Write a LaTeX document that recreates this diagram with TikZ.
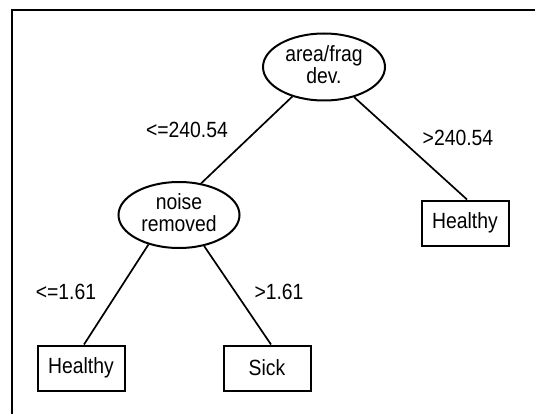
\documentclass[tikz,border=0pt]{standalone}
\usepackage{fontspec}
\setmainfont[FakeStretch=0.88]{Liberation Sans}
\usetikzlibrary{shapes.geometric}
\tikzset{
  decision/.style={ellipse, draw, line width=2pt, inner sep=0pt},
  leaf/.style={rectangle, draw, line width=2pt, inner sep=0pt, minimum width=87pt, minimum height=45pt},
  branch/.style={line width=1.7pt},
  cond/.style={inner sep=0pt},
}
\newcommand{\twolines}[2]{\smash{\raisebox{-6pt}{\begin{tabular}{@{}c@{}}#1\\[-2pt]#2\end{tabular}}}}
\begin{document}
\begin{tikzpicture}[x=1pt, y=-1pt, font=\fontsize{22pt}{24pt}\selectfont]
\useasboundingbox (0,0) rectangle (535,414);
\clip (0,0) rectangle (535,414);
\fill[white] (0,0) rectangle (535,414);
\draw[line width=2.4pt] (12,420) -- (12,10) -- (540,10);

\node[decision, minimum width=122pt, minimum height=67pt] (root) at (324,67) {\twolines{area/frag}{dev.}};
\node[decision, minimum width=121pt, minimum height=66pt] (noise) at (179,215) {\twolines{noise}{removed}};
\node[leaf] (hr) at (465,223) {Healthy};
\node[leaf] (hl) at (81,368) {Healthy};
\node[leaf] (sick) at (267,368) {Sick};

\draw[branch] (root.223) -- (noise.55);
\draw[branch] (root.-45) -- ([xshift=2pt]hr.north);
\draw[branch] (noise.224) -- ([xshift=3pt]hl.north);
\draw[branch] (noise.-51) -- ([xshift=4pt]sick.north);

\node[cond] (c1) at (187,130) {<=240.54};
\node[cond] (c2) at (458,138) {>240.54};
\node[cond] (c3) at (66,292) {<=1.61};
\node[cond] (c4) at (279,292) {>1.61};
\end{tikzpicture}
\end{document}
